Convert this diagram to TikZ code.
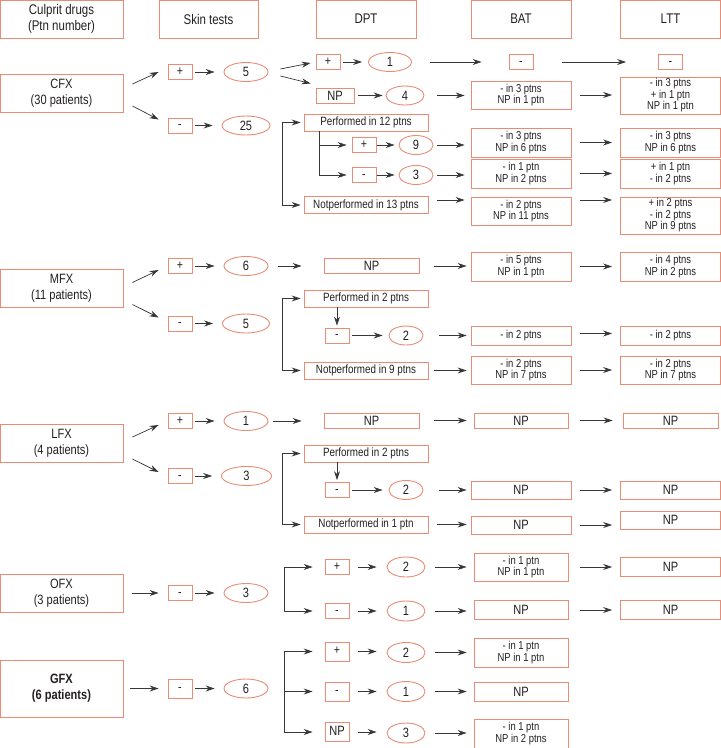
\documentclass[tikz,border=0pt]{standalone}
\usepackage{fontspec}
\setmainfont{Liberation Sans}[FakeStretch=0.82]
\usepackage{xcolor}
\usepackage{tikz}
\usetikzlibrary{shapes,arrows,positioning,calc,arrows.meta}
\definecolor{salmon}{RGB}{232,140,118}
\definecolor{ink}{RGB}{35,31,32}
\definecolor{lead}{RGB}{55,55,55}
\tikzset{
  box/.style={draw=salmon, line width=0.9pt, inner sep=1pt, text=ink, align=center},
  hbox/.style={box, minimum width=99pt, minimum height=38pt, font=\fontsize{14}{15.5}\selectfont},
  dbox/.style={box, minimum width=123pt, minimum height=38pt, font=\fontsize{13.5}{16}\selectfont},
  sbox/.style={box, minimum width=24pt, minimum height=15pt, text height=0.62em, text depth=0pt, font=\fontsize{13}{13}\selectfont},
  cnt/.style={box, ellipse, minimum width=38pt, minimum height=19pt, font=\fontsize{13.5}{14}\selectfont},
  rbox/.style={box, minimum width=100pt, minimum height=28pt, font=\fontsize{11.5}{11.5}\selectfont},
  pbox/.style={box, minimum width=124pt, minimum height=17pt, font=\fontsize{12}{12}\selectfont},
  npbox/.style={box, minimum height=15pt, font=\fontsize{13.5}{14}\selectfont},
  arr/.style={draw=lead, line width=0.7pt, -{Stealth[length=9pt,width=6pt,inset=3pt]}},
  gap/.style 2 args={shorten <=#1, shorten >=#2},
}

\begin{document}
\begin{tikzpicture}[x=1pt,y=-1pt]
    \useasboundingbox (0,0) rectangle (721,748);

    % column heads
    \node[hbox, minimum width=123pt] (hdrug) at (61.5,19) {Culprit drugs\\(Ptn number)};
    \node[hbox] (hskin) at (208.5,19) {Skin tests};
    \node[hbox, minimum width=100pt] (hdpt) at (366,19) {DPT};
    \node[hbox, minimum width=100pt] (hbat) at (521,19) {BAT};
    \node[hbox, minimum width=100pt] (hltt) at (670.5,19) {LTT};

    % CFX
    \node[dbox] (cfx) at (61.5,93) {CFX\\(30 patients)};
    \node[sbox] (cfxSp) at (180,72) {+};
    \node[cnt, minimum width=44pt] (cfxSpn) at (246,72) {5};
    \node[sbox] (cfxSm) at (180,125.5) {-};
    \node[cnt, minimum width=48pt] (cfxSmn) at (246,125.5) {25};
    \node[sbox] (cfxDp) at (328,62) {+};
    \node[cnt, minimum width=43pt] (cfxDpn) at (390,62) {1};
    \node[sbox] (cfxBp) at (521,62) {-};
    \node[sbox] (cfxLp) at (670.5,62) {-};
    \node[npbox, minimum width=38pt] (cfxDnp) at (335,95.5) {NP};
    \node[cnt] (cfxDnpn) at (405,95.5) {4};
    \node[rbox] (cfxBnp) at (521,95) {- in 3 ptns\\NP in 1 ptn};
    \node[rbox, minimum height=37pt] (cfxLnp) at (670.5,95.5) {- in 3 ptns\\+ in 1 ptn\\NP in 1 ptn};
    \node[pbox] (cfxPerf) at (366,122.5) {Performed in 12 ptns};
    \node[sbox] (cfxQp) at (364,145) {+};
    \node[cnt, minimum width=34pt] (cfxQpn) at (416,145) {9};
    \node[rbox, minimum height=29pt] (cfxBqp) at (521,142.5) {- in 3 ptns\\NP in 6 ptns};
    \node[rbox, minimum height=29pt] (cfxLqp) at (670.5,142.5) {- in 3 ptns\\NP in 6 ptns};
    \node[sbox] (cfxQm) at (364,175) {-};
    \node[cnt, minimum width=34pt] (cfxQmn) at (416,175) {3};
    \node[rbox, minimum height=29pt] (cfxBqm) at (521,173.5) {- in 1 ptn\\NP in 2 ptns};
    \node[rbox, minimum height=29pt] (cfxLqm) at (670.5,173.5) {+ in 1 ptn\\- in 2 ptns};
    \node[pbox] (cfxNot) at (366,205) {Notperformed in 13 ptns};
    \node[rbox] (cfxBnot) at (521,211) {- in 2 ptns\\NP in 11 ptns};
    \node[rbox, minimum height=37pt] (cfxLnot) at (670.5,215.5) {+ in 2 ptns\\- in 2 ptns\\NP in 9 ptns};
    \coordinate (cfxbr) at (282,164);
    \coordinate (cfxin) at (319,131);

    \draw[arr] ([shift={(9,-9)}]cfx.east) -- ([xshift=-9pt]cfxSp.west);
    \draw[arr] ([shift={(9,13)}]cfx.east) -- ([shift={(-9,-6)}]cfxSm.west);
    \draw[arr, gap={3pt}{9pt}] (cfxSp.east) -- (cfxSp.east -| cfxSpn.west);
    \draw[arr, gap={3pt}{9pt}] (cfxSm.east) -- (cfxSm.east -| cfxSmn.west);
    \draw[arr] ([shift={(12,-3)}]cfxSpn.east) -- ([shift={(-5,1)}]cfxDp.west);
    \draw[arr] ([shift={(12,4)}]cfxSpn.east) -- ([shift={(-5,-12)}]cfxDnp.west);
    \draw[arr, gap={3pt}{6pt}] (cfxDp.east) -- (cfxDp.east -| cfxDpn.west);
    \draw[arr, gap={18pt}{27pt}] (cfxDpn.east) -- (cfxDpn.east -| cfxBp.west);
    \draw[arr, gap={29pt}{32pt}] (cfxBp.east) -- (cfxBp.east -| cfxLp.west);
    \draw[arr, gap={4pt}{3pt}] (cfxDnp.east) -- (cfxDnp.east -| cfxDnpn.west);
    \draw[arr, gap={13pt}{6pt}] (cfxDnpn.east) -- (cfxDnpn.east -| cfxBnp.west);
    \draw[arr, gap={9pt}{8pt}] (cfxBnp.east) -- (cfxBnp.east -| cfxLnp.west);
    \draw[arr, shorten >=3pt] (cfxbr) |- (cfxPerf.west);
    \draw[arr, shorten >=3pt] (cfxbr) |- (cfxNot.west);
    \draw[arr, shorten >=5pt] (cfxin) |- (cfxQp.west);
    \draw[arr, shorten >=5pt] (cfxin) |- (cfxQm.west);
    \draw[arr, gap={1pt}{4pt}] (cfxQp.east) -- (cfxQp.east -| cfxQpn.west);
    \draw[arr, gap={1pt}{4pt}] (cfxQm.east) -- (cfxQm.east -| cfxQmn.west);
    \draw[arr, gap={4pt}{6pt}] (cfxQpn.east) -- (cfxQpn.east -| cfxBqp.west);
    \draw[arr, gap={4pt}{6pt}] (cfxQmn.east) -- (cfxQmn.east -| cfxBqm.west);
    \draw[arr, gap={9pt}{8pt}] (cfxBqp.east) -- (cfxBqp.east -| cfxLqp.west);
    \draw[arr, gap={9pt}{8pt}] (cfxBqm.east) -- (cfxBqm.east -| cfxLqm.west);
    \draw[arr, gap={9pt}{6pt}] ([yshift=5pt]cfxNot.east) -- ([yshift=5pt]cfxNot.east -| cfxBnot.west);
    \draw[arr, gap={9pt}{8pt}] ([yshift=11pt]cfxBnot.east) -- ([yshift=11pt]cfxBnot.east -| cfxLnot.west);

    % MFX
    \node[dbox] (mfx) at (61.5,288.5) {MFX\\(11 patients)};
    \node[sbox] (mfxSp) at (180,266) {+};
    \node[cnt, minimum width=44pt] (mfxSpn) at (246,266) {6};
    \node[sbox] (mfxSm) at (180,323.5) {-};
    \node[cnt, minimum width=47pt] (mfxSmn) at (246,323.5) {5};
    \node[npbox, minimum width=95pt] (mfxDnp) at (371.5,266) {NP};
    \node[rbox, minimum height=29pt] (mfxBnp) at (521,266.5) {- in 5 ptns\\NP in 1 ptn};
    \node[rbox, minimum height=29pt] (mfxLnp) at (670.5,266.5) {- in 4 ptns\\NP in 2 ptns};
    \node[pbox] (mfxPerf) at (366,298.5) {Performed in 2 ptns};
    \node[sbox] (mfxQm) at (337,335.5) {-};
    \node[cnt, minimum width=34pt] (mfxQmn) at (406,335.5) {2};
    \node[rbox, minimum height=19pt] (mfxBqm) at (521,335.5) {- in 2 ptns};
    \node[rbox, minimum height=19pt] (mfxLqm) at (670.5,335.5) {- in 2 ptns};
    \node[pbox] (mfxNot) at (366,370.5) {Notperformed in 9 ptns};
    \node[rbox] (mfxBnot) at (521,370) {- in 2 ptns\\NP in 7 ptns};
    \node[rbox] (mfxLnot) at (670.5,370) {- in 2 ptns\\NP in 7 ptns};
    \coordinate (mfxbr) at (282,335);

    \draw[arr] ([shift={(9,-6)}]mfx.east) -- ([shift={(-9,4)}]mfxSp.west);
    \draw[arr] ([shift={(9,16)}]mfx.east) -- ([shift={(-9,-6)}]mfxSm.west);
    \draw[arr, gap={3pt}{9pt}] (mfxSp.east) -- (mfxSp.east -| mfxSpn.west);
    \draw[arr, gap={3pt}{9pt}] (mfxSm.east) -- (mfxSm.east -| mfxSmn.west);
    \draw[arr, gap={10pt}{22pt}] (mfxSpn.east) -- (mfxSpn.east -| mfxDnp.west);
    \draw[arr, gap={15pt}{4pt}] (mfxDnp.east) -- (mfxDnp.east -| mfxBnp.west);
    \draw[arr, gap={9pt}{8pt}] (mfxBnp.east) -- (mfxBnp.east -| mfxLnp.west);
    \draw[arr, shorten >=3pt] (mfxbr) |- (mfxPerf.west);
    \draw[arr, shorten >=3pt] (mfxbr) |- (mfxNot.west);
    \draw[arr, shorten >=2pt] (mfxPerf.south -| mfxQm.north) -- (mfxQm.north);
    \draw[arr, gap={3pt}{6pt}] (mfxQm.east) -- (mfxQm.east -| mfxQmn.west);
    \draw[arr, gap={16pt}{4pt}] (mfxQmn.east) -- (mfxQmn.east -| mfxBqm.west);
    \draw[arr, gap={9pt}{8pt}] ([yshift=2pt]mfxBqm.east) -- ([yshift=2pt]mfxBqm.east -| mfxLqm.west);
    \draw[arr, gap={6pt}{4pt}] (mfxNot.east) -- (mfxNot.east -| mfxBnot.west);
    \draw[arr, gap={9pt}{8pt}] (mfxBnot.east) -- (mfxBnot.east -| mfxLnot.west);

    % LFX
    \node[dbox] (lfx) at (61.5,443) {LFX\\(4 patients)};
    \node[sbox] (lfxSp) at (180,421) {+};
    \node[cnt, minimum width=44pt] (lfxSpn) at (246,421) {1};
    \node[sbox] (lfxSm) at (180,476) {-};
    \node[cnt, minimum width=50pt] (lfxSmn) at (246.5,476) {3};
    \node[npbox, minimum width=95pt] (lfxDnp) at (371.5,420.5) {NP};
    \node[npbox, minimum width=94pt] (lfxBnp) at (521,420.5) {NP};
    \node[npbox, minimum width=95pt] (lfxLnp) at (670.5,420.5) {NP};
    \node[pbox] (lfxPerf) at (366,453.5) {Performed in 2 ptns};
    \node[sbox] (lfxQm) at (337,490) {-};
    \node[cnt, minimum width=34pt] (lfxQmn) at (406,490) {2};
    \node[npbox, minimum width=100pt, minimum height=18pt] (lfxBqm) at (521,490) {NP};
    \node[npbox, minimum width=100pt, minimum height=18pt] (lfxLqm) at (670.5,490) {NP};
    \node[pbox] (lfxNot) at (366,524.5) {Notperformed in 1 ptn};
    \node[npbox, minimum width=100pt, minimum height=18pt] (lfxBnot) at (521,525) {NP};
    \node[npbox, minimum width=100pt, minimum height=18pt] (lfxLnot) at (670.5,520) {NP};
    \coordinate (lfxbr) at (282,489);

    \draw[arr] ([shift={(9,-6)}]lfx.east) -- ([shift={(-9,4)}]lfxSp.west);
    \draw[arr] ([shift={(9,16)}]lfx.east) -- ([shift={(-9,-4)}]lfxSm.west);
    \draw[arr, gap={3pt}{9pt}] (lfxSp.east) -- (lfxSp.east -| lfxSpn.west);
    \draw[arr, gap={3pt}{9pt}] (lfxSm.east) -- (lfxSm.east -| lfxSmn.west);
    \draw[arr, gap={5pt}{22pt}] (lfxSpn.east) -- (lfxSpn.east -| lfxDnp.west);
    \draw[arr, gap={15pt}{7pt}] (lfxDnp.east) -- (lfxDnp.east -| lfxBnp.west);
    \draw[arr, gap={12pt}{10pt}] (lfxBnp.east) -- (lfxBnp.east -| lfxLnp.west);
    \draw[arr, shorten >=3pt] (lfxbr) |- (lfxPerf.west);
    \draw[arr, shorten >=3pt] (lfxbr) |- (lfxNot.west);
    \draw[arr, shorten >=2pt] (lfxPerf.south -| lfxQm.north) -- (lfxQm.north);
    \draw[arr, gap={3pt}{6pt}] (lfxQm.east) -- (lfxQm.east -| lfxQmn.west);
    \draw[arr, gap={16pt}{4pt}] (lfxQmn.east) -- (lfxQmn.east -| lfxBqm.west);
    \draw[arr, gap={9pt}{8pt}] (lfxBqm.east) -- (lfxBqm.east -| lfxLqm.west);
    \draw[arr, gap={9pt}{4pt}] (lfxNot.east) -- (lfxNot.east -| lfxBnot.west);
    \draw[arr, gap={9pt}{8pt}] (lfxBnot.east) -- (lfxBnot.east -| lfxLnot.west);

    % OFX
    \node[dbox] (ofx) at (61.5,593) {OFX\\(3 patients)};
    \node[sbox] (ofxSm) at (180,593) {-};
    \node[cnt, minimum width=44pt] (ofxSmn) at (246,593) {3};
    \node[sbox] (ofxDp) at (337,567) {+};
    \node[cnt, minimum height=20pt] (ofxDpn) at (406,567) {2};
    \node[rbox, minimum width=94pt] (ofxBp) at (521,567) {- in 1 ptn\\NP in 1 ptn};
    \node[npbox, minimum width=100pt, minimum height=19pt] (ofxLp) at (670.5,566.5) {NP};
    \node[sbox] (ofxDm) at (337,611) {-};
    \node[cnt, minimum height=20pt] (ofxDmn) at (406,611) {1};
    \node[npbox, minimum width=94pt, minimum height=19pt] (ofxBm) at (521,610) {NP};
    \node[npbox, minimum width=100pt, minimum height=19pt] (ofxLm) at (670.5,610) {NP};
    \coordinate (ofxbr) at (284,590);

    \draw[arr, gap={9pt}{9pt}] (ofx.east) -- (ofx.east -| ofxSm.west);
    \draw[arr, gap={3pt}{9pt}] (ofxSm.east) -- (ofxSm.east -| ofxSmn.west);
    \draw[arr, shorten >=12pt] (ofxbr) |- (ofxDp.west);
    \draw[arr, shorten >=12pt] (ofxbr) |- (ofxDm.west);
    \draw[arr, gap={9pt}{10pt}] (ofxDp.east) -- (ofxDp.east -| ofxDpn.west);
    \draw[arr, gap={9pt}{10pt}] (ofxDm.east) -- (ofxDm.east -| ofxDmn.west);
    \draw[arr, gap={10pt}{7pt}] (ofxDpn.east) -- (ofxDpn.east -| ofxBp.west);
    \draw[arr, gap={10pt}{7pt}] (ofxDmn.east) -- (ofxDmn.east -| ofxBm.west);
    \draw[arr, gap={12pt}{8pt}] (ofxBp.east) -- (ofxBp.east -| ofxLp.west);
    \draw[arr, gap={12pt}{8pt}] (ofxBm.east) -- (ofxBm.east -| ofxLm.west);

    % GFX
    \node[dbox, minimum height=57pt, font=\bfseries\fontsize{13.5}{16}\selectfont] (gfx) at (61.5,688.5) {GFX\\(6 patients)};
    \node[sbox, minimum height=19pt] (gfxSm) at (180,688.5) {-};
    \node[cnt, minimum width=44pt] (gfxSmn) at (246,688.5) {6};
    \node[sbox, minimum height=19pt] (gfxDp) at (337,651.5) {+};
    \node[cnt, minimum height=20pt] (gfxDpn) at (406,652.5) {2};
    \node[rbox, minimum width=94pt, minimum height=29pt] (gfxBp) at (521,652.5) {- in 1 ptn\\NP in 1 ptn};
    \node[sbox, minimum height=19pt] (gfxDm) at (337,691.5) {-};
    \node[cnt, minimum height=20pt] (gfxDmn) at (406,691.5) {1};
    \node[npbox, minimum width=94pt, minimum height=19pt] (gfxBm) at (521,691.5) {NP};
    \node[sbox, minimum height=19pt, font=\fontsize{13.5}{14}\selectfont] (gfxDnp) at (337,732) {NP};
    \node[cnt, minimum height=20pt] (gfxDnpn) at (406,733) {3};
    \node[rbox, minimum width=94pt, minimum height=29pt] (gfxBnp) at (521,733.5) {- in 1 ptn\\NP in 2 ptns};
    \coordinate (gfxbr) at (284,691.5);

    \draw[arr, gap={7pt}{9pt}] (gfx.east) -- (gfx.east -| gfxSm.west);
    \draw[arr, gap={3pt}{9pt}] (gfxSm.east) -- (gfxSm.east -| gfxSmn.west);
    \draw[arr, shorten >=12pt] (gfxbr) |- (gfxDp.west);
    \draw[arr, shorten >=12pt] (gfxbr) -- (gfxDm.west);
    \draw[arr, shorten >=12pt] (gfxbr) |- (gfxDnp.west);
    \draw[arr, gap={9pt}{10pt}] (gfxDp.east) -- (gfxDp.east -| gfxDpn.west);
    \draw[arr, gap={9pt}{10pt}] (gfxDm.east) -- (gfxDm.east -| gfxDmn.west);
    \draw[arr, gap={9pt}{10pt}] (gfxDnp.east) -- (gfxDnp.east -| gfxDnpn.west);
    \draw[arr, gap={10pt}{7pt}] (gfxDpn.east) -- (gfxDpn.east -| gfxBp.west);
    \draw[arr, gap={10pt}{7pt}] (gfxDmn.east) -- (gfxDmn.east -| gfxBm.west);
    \draw[arr, gap={10pt}{7pt}] (gfxDnpn.east) -- (gfxDnpn.east -| gfxBnp.west);
\end{tikzpicture}
\end{document}
